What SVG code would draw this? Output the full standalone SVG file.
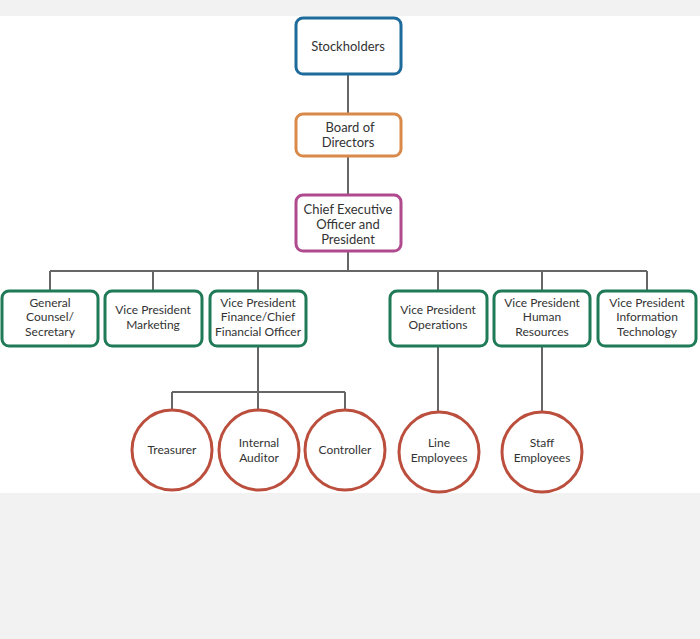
<svg xmlns="http://www.w3.org/2000/svg" width="700" height="639" viewBox="0 0 700 639">
<style>
.b{fill:#fff;stroke-width:3}
.blue{stroke:#1d6a9b}.or{stroke:#d98a4a}.mg{stroke:#b04a8e}.gr{stroke:#1f7a57}
.c{fill:#fff;stroke:#bb4e3c;stroke-width:3}
text{font-family:Lato,"Open Sans",sans-serif;font-size:12px;fill:#333;text-anchor:middle}
.big{font-size:13px}
#conn path{fill:none;stroke:#666;stroke-width:2}
</style>
<rect width="700" height="639" fill="#f2f2f2"/>
<rect y="16" width="700" height="477" fill="#fff"/>
<g id="conn">
<path d="M348 74V195M348 251V271M50 271H647M50 271V291M153 271V291M258 271V291M438 271V291M542 271V291M647 271V291"/>
<path d="M258 346V392M172 392H345M172 392V410M258 392V410M345 392V410M438 346V412M542 346V412"/>
</g>
<g id="stockholders"><rect class="b blue" x="296" y="18" width="105" height="56" rx="7"/><text class="big" x="348" y="51">Stockholders</text></g>
<g id="board"><rect class="b or" x="296" y="114" width="105" height="42" rx="7"/><text class="big" x="350" y="132">Board of</text><text class="big" x="348" y="147">Directors</text></g>
<g id="ceo"><rect class="b mg" x="296" y="195" width="105" height="56" rx="7"/><text class="big" x="348" y="214">Chief Executive</text><text class="big" x="348" y="229">Officer and</text><text class="big" x="348" y="244">President</text></g>
<g id="gc"><rect class="b gr" x="2" y="291" width="96" height="55" rx="7"/><text x="50" y="307">General</text><text x="50" y="321">Counsel/</text><text x="50" y="336">Secretary</text></g>
<g id="mkt"><rect class="b gr" x="105" y="291" width="97" height="55" rx="7"/><text x="153" y="314">Vice President</text><text x="153" y="329">Marketing</text></g>
<g id="fin"><rect class="b gr" x="210" y="291" width="96" height="55" rx="7"/><text x="258" y="307">Vice President</text><text x="258" y="321">Finance/Chief</text><text x="258" y="336">Financial Officer</text></g>
<g id="ops"><rect class="b gr" x="390" y="291" width="97" height="55" rx="7"/><text x="438" y="314">Vice President</text><text x="438" y="329">Operations</text></g>
<g id="hr"><rect class="b gr" x="494" y="291" width="96" height="55" rx="7"/><text x="542" y="307">Vice President</text><text x="542" y="321">Human</text><text x="542" y="336">Resources</text></g>
<g id="it"><rect class="b gr" x="598" y="291" width="98" height="55" rx="7"/><text x="647" y="307">Vice President</text><text x="647" y="321">Information</text><text x="647" y="336">Technology</text></g>
<g id="treasurer"><circle class="c" cx="172" cy="450" r="40"/><text x="172" y="454">Treasurer</text></g>
<g id="auditor"><circle class="c" cx="259" cy="450" r="40"/><text x="259" y="447">Internal</text><text x="259" y="462">Auditor</text></g>
<g id="controller"><circle class="c" cx="345" cy="450" r="40"/><text x="345" y="454">Controller</text></g>
<g id="line"><circle class="c" cx="439" cy="452" r="40"/><text x="439" y="447">Line</text><text x="439" y="462">Employees</text></g>
<g id="staff"><circle class="c" cx="542" cy="452" r="40"/><text x="542" y="447">Staff</text><text x="542" y="462">Employees</text></g>
</svg>
